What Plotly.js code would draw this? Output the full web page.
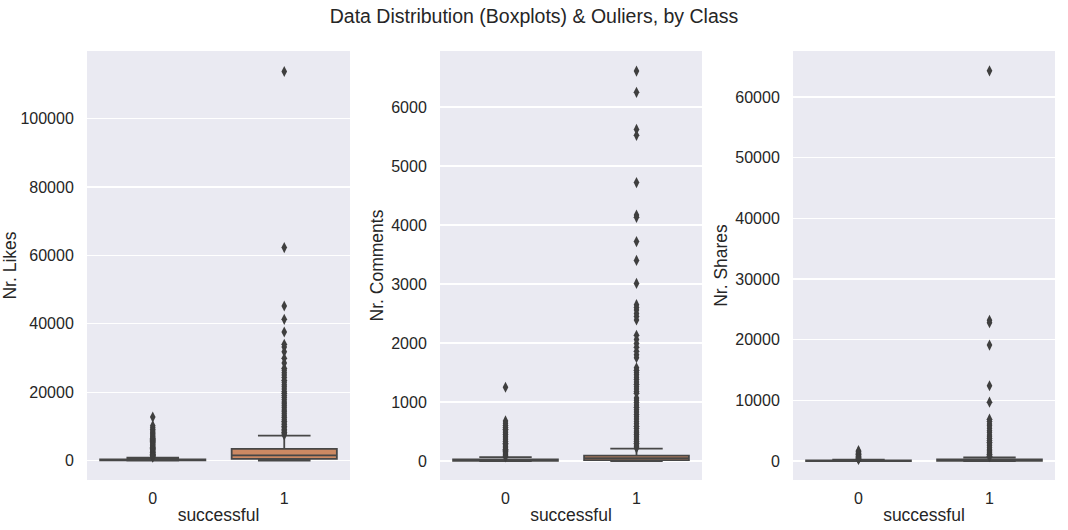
<!DOCTYPE html>
<html>
<head>
<meta charset="utf-8">
<script src="https://cdn.plot.ly/plotly-3.0.1.min.js"></script>
<style>html,body{margin:0;padding:0;background:#fff;}#chart{width:1068px;height:530px;}</style>
</head>
<body>
<div id="chart"></div>
<script>
// Categories (class "successful")
const classes = [0, 1];
const classLabels = ["0", "1"];

// Panel titles
const yTitles = ["Nr. Likes", "Nr. Comments", "Nr. Shares"];

// Box statistics per metric: [class0, class1]
const likesQ1 = [20, 500];
const likesMedian = [100, 1500];
const likesQ3 = [350, 3400];
const likesLower = [0, 0];
const likesUpper = [850, 7300];

const commentsQ1 = [3, 15];
const commentsMedian = [10, 50];
const commentsQ3 = [28, 90];
const commentsLower = [0, 0];
const commentsUpper = [65, 210];

const sharesQ1 = [5, 20];
const sharesMedian = [30, 80];
const sharesQ3 = [100, 250];
const sharesLower = [0, 0];
const sharesUpper = [230, 600];

// Outliers
const likesOut0 = [12700, 10200, 9600, 9100, 8600, 8200, 7800, 7500, 7100, 6800, 6500, 6200, 5900, 5600, 5300, 5100, 4800, 4600, 4300, 4100, 3900, 3600, 3400, 3200, 3000, 2800, 2600, 2400, 2200, 2000, 1850, 1700, 1550, 1400, 1250, 1100, 950];
const likesOut1 = [113800, 62300, 45200, 41300, 37600, 34000, 33200, 31800, 29900, 28500, 27000, 26400, 25700, 25000, 24300, 23500, 22900, 22200, 21600, 20900, 20200, 19700, 19000, 18400, 17800, 17100, 16600, 16000, 15400, 14800, 14300, 13700, 13100, 12600, 12000, 11500, 11000, 10500, 10000, 9600, 9100, 8700, 8300, 7900, 7500];
const commentsOut0 = [1250, 680, 640, 600, 570, 540, 510, 480, 450, 420, 390, 360, 330, 300, 275, 250, 225, 200, 180, 160, 140, 120, 100, 85, 70];
const commentsOut1 = [6610, 6250, 5620, 5520, 4720, 4170, 4130, 3720, 3400, 3010, 2650, 2600, 2560, 2500, 2450, 2390, 2130, 2060, 1990, 1930, 1860, 1800, 1750, 1580, 1540, 1500, 1460, 1420, 1380, 1340, 1300, 1260, 1220, 1180, 1150, 1070, 1030, 990, 950, 910, 870, 830, 790, 750, 710, 670, 630, 590, 550, 510, 480, 450, 420, 390, 360, 330, 300, 270, 240, 220];
const sharesOut0 = [1700, 1550, 1400, 1250, 1100, 980, 860, 750, 650, 560, 480, 400, 330, 270];
const sharesOut1 = [64300, 23200, 22800, 19100, 12400, 9700, 6900, 6500, 6100, 5800, 5400, 5000, 4700, 4300, 4000, 3700, 3400, 3100, 2800, 2500, 2200, 1900, 1700, 1500, 1300, 1100, 950, 800, 700];

const boxColors = ["#5975A4", "#CC8963"];
const lineColor = "#474747";

const panels = [
  {q1: likesQ1, med: likesMedian, q3: likesQ3, lo: likesLower, hi: likesUpper, out: [likesOut0, likesOut1]},
  {q1: commentsQ1, med: commentsMedian, q3: commentsQ3, lo: commentsLower, hi: commentsUpper, out: [commentsOut0, commentsOut1]},
  {q1: sharesQ1, med: sharesMedian, q3: sharesQ3, lo: sharesLower, hi: sharesUpper, out: [sharesOut0, sharesOut1]}
];

const traces = [];
panels.forEach((p, i) => {
  const xa = i === 0 ? "x" : "x" + (i + 1);
  const ya = i === 0 ? "y" : "y" + (i + 1);
  classes.forEach((c, j) => {
    traces.push({
      type: "box", x: [c], q1: [p.q1[j]], median: [p.med[j]], q3: [p.q3[j]],
      lowerfence: [p.lo[j]], upperfence: [p.hi[j]],
      width: 0.8, whiskerwidth: 0.5, boxpoints: false,
      fillcolor: boxColors[j], line: {color: lineColor, width: 1.8},
      xaxis: xa, yaxis: ya, showlegend: false, hoverinfo: "skip"
    });
    traces.push({
      type: "scatter", mode: "markers", x: p.out[j].map(() => c), y: p.out[j],
      marker: {symbol: "diamond-tall", size: 8, color: "#3f3f3f", line: {width: 0}},
      xaxis: xa, yaxis: ya, showlegend: false, hoverinfo: "skip"
    });
  });
});

const W = 1068, H = 530;
const xDomains = [[87, 350], [440, 702], [793, 1055]];
const yRanges = [[-5700, 119800], [-322, 6950], [-3130, 67570]];
const yTicks = [
  [0, 20000, 40000, 60000, 80000, 100000],
  [0, 1000, 2000, 3000, 4000, 5000, 6000],
  [0, 10000, 20000, 30000, 40000, 50000, 60000]
];
const tickFont = {family: "Liberation Sans, Arial, sans-serif", size: 16, color: "#262626"};
const titleFont = {family: "Liberation Sans, Arial, sans-serif", size: 17.5, color: "#262626"};

const layout = {
  width: W, height: H,
  margin: {l: 0, r: 0, t: 0, b: 0},
  paper_bgcolor: "#ffffff",
  plot_bgcolor: "#EAEAF2",
  showlegend: false,
  title: {
    text: "Data Distribution (Boxplots) & Ouliers, by Class",
    x: 0.5, xref: "paper", xanchor: "center",
    y: 1 - 16 / H, yref: "paper", yanchor: "middle",
    font: {family: "Liberation Sans, Arial, sans-serif", size: 19.5, color: "#262626"}
  }
};

for (let i = 0; i < 3; i++) {
  const sx = i === 0 ? "" : String(i + 1);
  layout["xaxis" + sx] = {
    domain: [xDomains[i][0] / W, xDomains[i][1] / W],
    anchor: "y" + sx,
    range: [-0.5, 1.5],
    tickvals: classes, ticktext: classLabels,
    showgrid: false, zeroline: false, showline: false,
    ticks: "outside", ticklen: 4, tickcolor: "rgba(0,0,0,0)",
    tickfont: tickFont,
    title: {text: "successful", font: titleFont, standoff: 2}
  };
  layout["yaxis" + sx] = {
    domain: [1 - 480 / H, 1 - 51 / H],
    anchor: "x" + sx,
    range: yRanges[i],
    tickvals: yTicks[i],
    ticktext: yTicks[i].map(String),
    showgrid: true, gridcolor: "#ffffff", gridwidth: 1.2,
    zeroline: false, showline: false,
    ticks: "outside", ticklen: 9, tickcolor: "rgba(0,0,0,0)",
    tickfont: tickFont,
    title: {text: yTitles[i], font: titleFont, standoff: 3}
  };
}

Plotly.newPlot("chart", traces, layout, {displayModeBar: false, staticPlot: true});
</script>
</body>
</html>
